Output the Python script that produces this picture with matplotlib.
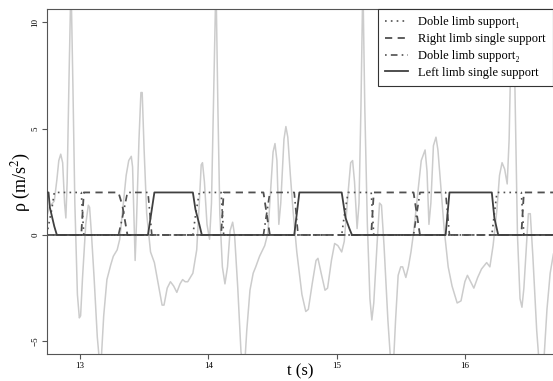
import matplotlib
matplotlib.use("Agg")
import matplotlib.pyplot as plt

plt.rcParams['font.family'] = ['Liberation Serif', 'DejaVu Serif']
plt.rcParams['mathtext.fontset'] = 'stix'

# acceleration signal (gray)
sig_t = [12.743, 12.76, 12.80, 12.82, 12.835, 12.85, 12.865, 12.88, 12.89, 12.90, 12.915, 12.93,
         12.945, 12.96, 12.98, 12.995, 13.005, 13.02, 13.045, 13.065, 13.075, 13.09, 13.11, 13.135,
         13.16, 13.185, 13.21, 13.24, 13.26, 13.29, 13.31, 13.33, 13.36, 13.38, 13.40, 13.41,
         13.42, 13.43, 13.44, 13.46, 13.475, 13.485, 13.50, 13.52, 13.55, 13.58, 13.61, 13.64,
         13.655, 13.68, 13.705, 13.73, 13.755, 13.78, 13.80, 13.82, 13.84, 13.86, 13.88, 13.91,
         13.93, 13.945, 13.955, 13.97, 13.99, 14.01, 14.025, 14.045, 14.06, 14.075, 14.09, 14.11,
         14.13, 14.15, 14.17, 14.19, 14.205, 14.23, 14.255, 14.28, 14.30, 14.325, 14.35, 14.37,
         14.40, 14.44, 14.465, 14.485, 14.505, 14.52, 14.535, 14.55, 14.565, 14.59, 14.605, 14.62,
         14.64, 14.66, 14.69, 14.73, 14.76, 14.78, 14.81, 14.84, 14.855, 14.88, 14.91, 14.93,
         14.96, 14.985, 15.01, 15.04, 15.06, 15.09, 15.11, 15.125, 15.14, 15.16, 15.175, 15.19,
         15.205, 15.22, 15.24, 15.26, 15.275, 15.29, 15.315, 15.335, 15.35, 15.37, 15.40, 15.42,
         15.44, 15.46, 15.48, 15.50, 15.515, 15.54, 15.56, 15.58, 15.60, 15.63, 15.66, 15.69,
         15.705, 15.72, 15.735, 15.755, 15.775, 15.79, 15.81, 15.84, 15.87, 15.90, 15.94, 15.97,
         16.00, 16.02, 16.045, 16.07, 16.10, 16.13, 16.17, 16.195, 16.22, 16.25, 16.27, 16.29,
         16.31, 16.33, 16.345, 16.36, 16.375, 16.39, 16.41, 16.43, 16.445, 16.46, 16.48, 16.495,
         16.51, 16.53, 16.56, 16.585, 16.61, 16.64, 16.665, 16.69]
sig_v = [0.9, 1.3, 1.6, 2.6, 3.5, 3.8, 3.4, 1.5, 0.8, 2.5, 7.5, 12.0,
         7.0, 1.5, -2.8, -3.9, -3.8, -2.0, 0.5, 1.4, 1.3, 0.0, -2.0, -4.8,
         -6.5, -3.8, -2.1, -1.4, -1.0, -0.7, -0.2, 1.0, 2.8, 3.5, 3.7, 3.2,
         1.0, -1.2, 0.5, 4.5, 6.7, 6.7, 4.0, 1.0, -0.8, -1.3, -2.3, -3.3,
         -3.3, -2.5, -2.2, -2.4, -2.7, -2.3, -2.1, -2.2, -2.2, -2.0, -1.8, -0.7,
         1.5, 3.3, 3.4, 2.5, 0.5, -0.2, 1.5, 7.5, 12.0, 6.0, 1.0, -1.5,
         -2.3, -1.5, 0.2, 0.6, 0.0, -2.5, -5.5, -6.5, -4.5, -2.6, -1.8, -1.5,
         -1.0, -0.5, 0.1, 2.0, 3.9, 4.3, 3.5, 0.5, 1.5, 4.5, 5.1, 4.6,
         2.8, 1.2, -0.8, -2.8, -3.6, -3.5, -2.3, -1.2, -1.1, -1.8, -2.6, -2.5,
         -1.2, -0.4, -0.5, -0.8, -0.3, 2.0, 3.4, 3.5, 2.5, 0.3, 1.5, 6.0,
         12.0, 6.0, 0.5, -3.0, -4.0, -3.2, -0.5, 1.5, 1.4, -0.5, -4.0, -5.8,
         -6.5, -4.0, -1.9, -1.5, -1.5, -2.0, -1.5, -0.8, 0.1, 1.8, 3.5, 4.0,
         3.0, 0.5, 1.5, 4.2, 4.6, 4.0, 2.5, 0.2, -1.5, -2.4, -3.2, -3.1,
         -2.2, -1.9, -2.2, -2.5, -2.0, -1.6, -1.3, -1.5, -0.5, 1.2, 2.8, 3.4,
         3.1, 2.4, 4.5, 9.0, 12.0, 7.0, 0.0, -3.0, -3.4, -2.5, -0.5, 1.0,
         1.0, -1.0, -4.5, -6.5, -6.5, -3.5, -1.8, -0.9]

# gait phases
dbl1_t = [12.743, 12.75, 12.78, 12.80, 13.01, 13.03, 13.88, 13.90, 13.93, 14.10, 14.12,
          15.04, 15.06, 15.09, 15.27, 15.29, 16.21, 16.23, 16.25, 16.44, 16.46, 16.69]
dbl1_v = [0, 0.3, 1.2, 2, 2, 0, 0, 0.9, 2, 2, 0,
          0, 0.9, 2, 2, 0, 0, 1.0, 2, 2, 0, 0]

right_t = [12.743, 13.01, 13.03, 13.30, 13.33, 13.37, 14.10, 14.12, 14.43, 14.45, 14.48,
           15.27, 15.29, 15.60, 15.62, 15.65, 16.44, 16.46, 16.69]
right_v = [0, 0, 2, 2, 1.4, 0, 0, 2, 2, 1.2, 0,
           0, 2, 2, 1.2, 0, 0, 2, 2]

dbl2_t = [12.743, 13.30, 13.33, 13.37, 13.53, 13.56, 14.43, 14.45, 14.48, 14.67, 14.70,
          15.60, 15.62, 15.65, 15.85, 15.88, 16.69]
dbl2_v = [0, 0, 0.8, 2, 2, 0, 0, 0.8, 2, 2, 0,
          0, 0.8, 2, 2, 0, 0]

left_t = [12.743, 12.755, 12.765, 12.80, 12.82, 13.53, 13.58, 13.88, 13.90, 13.93, 13.95,
          14.67, 14.71, 15.04, 15.07, 15.10, 15.12, 15.85, 15.88, 16.21, 16.23, 16.26, 16.69]
left_v = [2, 2, 1.3, 0.4, 0, 0, 2, 2, 1.2, 0.5, 0,
          0, 2, 2, 0.8, 0.3, 0, 0, 2, 2, 0.8, 0, 0]

labels = ['Doble limb support\u2081', 'Right limb single support',
          'Doble limb support\u2082', 'Left limb single support']

fig = plt.figure(figsize=(5.53, 3.81), dpi=100)
ax = fig.add_axes([47/553, 1 - 354/381, 1 - 47/553, (354 - 9)/381])

ax.plot(sig_t, sig_v, color='#cccccc', lw=1.1, zorder=1)
pc = '#505050'
ax.plot(dbl1_t, dbl1_v, color=pc, lw=1.2, ls=(0, (1, 2.5)), label=labels[0], zorder=2)
ax.plot(right_t, right_v, color=pc, lw=1.3, ls=(0, (4, 3)), label=labels[1], zorder=2)
ax.plot(dbl2_t, dbl2_v, color=pc, lw=1.2, ls=(0, (1, 2.5, 4, 2.5)), label=labels[2], zorder=2)
ax.plot(left_t, left_v, color='#404040', lw=1.3, ls='-', label=labels[3], zorder=3)

ax.set_xlim(12.743, 16.687)
ax.set_ylim(-5.6, 10.63)
ax.set_xticks([13, 14, 15, 16])
ax.set_yticks([-5, 0, 5, 10])
ax.tick_params(direction='out', length=3.6, width=0.8, color='#555555',
               labelsize=6.5, pad=2)
for lab in ax.get_yticklabels():
    lab.set_rotation(90)
    lab.set_va('center')
for s in ['left', 'bottom', 'top']:
    ax.spines[s].set_color('#555555')
    ax.spines[s].set_linewidth(0.8)
ax.spines['right'].set_visible(False)

ax.set_xlabel('t (s)', fontsize=12)
ax.xaxis.set_label_coords(0.5, -0.026)
ax.set_ylabel('\u03c1 (m/s$^2$)', fontsize=13)
ax.yaxis.set_label_coords(-0.028, 0.5)

leg = ax.legend(loc='upper right', fontsize=9, frameon=True, fancybox=False,
                borderaxespad=0, handlelength=1.8, handletextpad=0.8,
                labelspacing=0.38, borderpad=0.6)
leg.get_frame().set_edgecolor('#333333')
leg.get_frame().set_linewidth(0.8)
leg.get_frame().set_alpha(1)

fig.savefig('out.png', dpi=100)
